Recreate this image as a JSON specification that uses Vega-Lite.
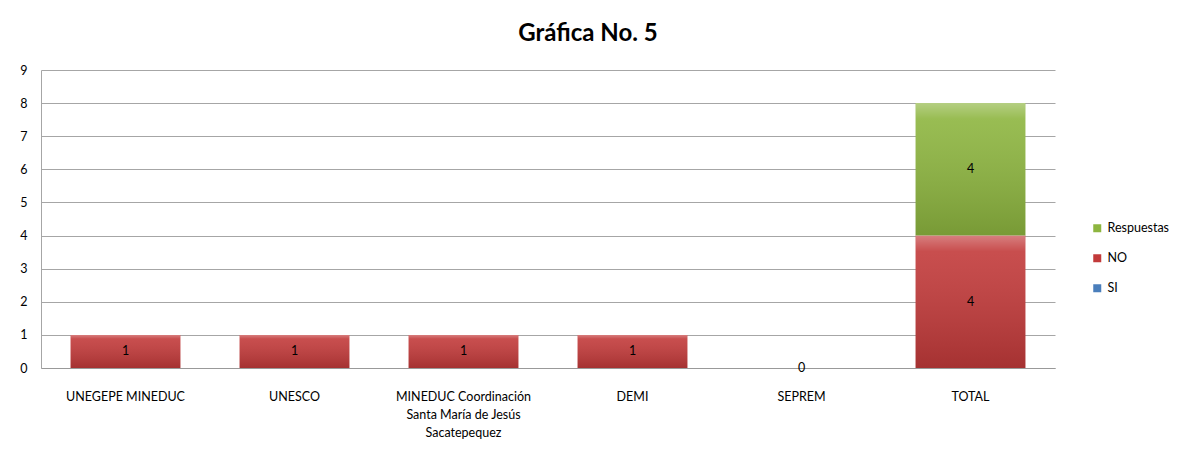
{
  "$schema": "https://vega.github.io/schema/vega-lite/v6.json",
  "width": 1014,
  "height": 298,
  "autosize": {"type": "none"},
  "padding": {"left": 41, "top": 70, "right": 122, "bottom": 93},
  "background": "white",
  "config": {
    "font": "Lato",
    "view": {"stroke": null},
    "axisY": {
      "title": null,
      "values": [0, 1, 2, 3, 4, 5, 6, 7, 8, 9],
      "labelFontSize": 12.5,
      "labelColor": "#000000",
      "labelPadding": 14,
      "ticks": false,
      "gridColor": "#a6a6a6",
      "domainColor": "#a6a6a6"
    }
  },
  "title": {
    "text": "Gráfica No. 5",
    "fontSize": 24,
    "fontWeight": "bold",
    "font": "Lato",
    "color": "#000000",
    "anchor": "middle",
    "frame": "group",
    "dx": 40,
    "dy": 7,
    "baseline": "alphabetic",
    "offset": 6
  },
  "data": {
    "values": [
      {"categoria": "UNEGEPE  MINEDUC", "serie": "NO", "valor": 1},
      {"categoria": "UNESCO", "serie": "NO", "valor": 1},
      {"categoria": "MINEDUC  Coordinación|Santa María de Jesús|Sacatepequez", "serie": "NO", "valor": 1},
      {"categoria": "DEMI", "serie": "NO", "valor": 1},
      {"categoria": "SEPREM", "serie": "NO", "valor": 0},
      {"categoria": "TOTAL", "serie": "NO", "valor": 4},
      {"categoria": "TOTAL", "serie": "Respuestas", "valor": 4}
    ]
  },
  "encoding": {
    "x": {
      "field": "categoria",
      "type": "nominal",
      "sort": null,
      "scale": {"paddingInner": 0.35, "paddingOuter": 0.175},
      "axis": {
        "title": null,
        "labelAngle": 0,
        "labelExpr": "split(datum.label, '|')",
        "labelFontSize": 12.5,
        "labelColor": "#000000",
        "labelPadding": 28,
        "labelLineHeight": 18,
        "labelBaseline": "middle",
        "ticks": false,
        "domainColor": "#999999",
        "labelLimit": 300
      }
    },
    "order": {"field": "serie", "sort": "ascending"}
  },
  "layer": [
    {
      "mark": {"type": "bar"},
      "encoding": {
        "y": {
          "field": "valor",
          "type": "quantitative",
          "stack": "zero",
          "scale": {"domain": [0, 9]}
        },
        "color": {
          "field": "serie",
          "type": "nominal",
          "scale": {
            "domain": ["Respuestas", "NO", "SI"],
            "range": ["#8db53f", "#c23a3a", "#4a7ebb"]
          },
          "legend": {
            "title": null,
            "orient": "none",
            "legendX": 1050,
            "legendY": 152,
            "symbolType": "square",
            "symbolSize": 64,
            "symbolStrokeWidth": 0,
            "labelFontSize": 12.5,
            "labelColor": "#000000",
            "labelOffset": 4,
            "rowPadding": 17
          }
        }
      }
    },
    {
      "mark": {
        "type": "bar",
        "fill": {
          "gradient": "linear",
          "x1": 0, "y1": 0, "x2": 0, "y2": 1,
          "stops": [
            {"offset": 0, "color": "rgba(255,255,255,0.35)"},
            {"offset": 0.12, "color": "rgba(255,255,255,0.1)"},
            {"offset": 1, "color": "rgba(0,0,0,0.15)"}
          ]
        }
      },
      "encoding": {
        "y": {"field": "valor", "type": "quantitative", "stack": "zero"},
        "detail": {"field": "serie"}
      }
    },
    {
      "mark": {"type": "text", "fontSize": 12.5, "color": "#000000", "baseline": "middle"},
      "encoding": {
        "y": {"field": "valor", "type": "quantitative", "stack": "zero", "bandPosition": 0.5},
        "detail": {"field": "serie"},
        "text": {"field": "valor", "type": "quantitative"}
      }
    }
  ]
}
